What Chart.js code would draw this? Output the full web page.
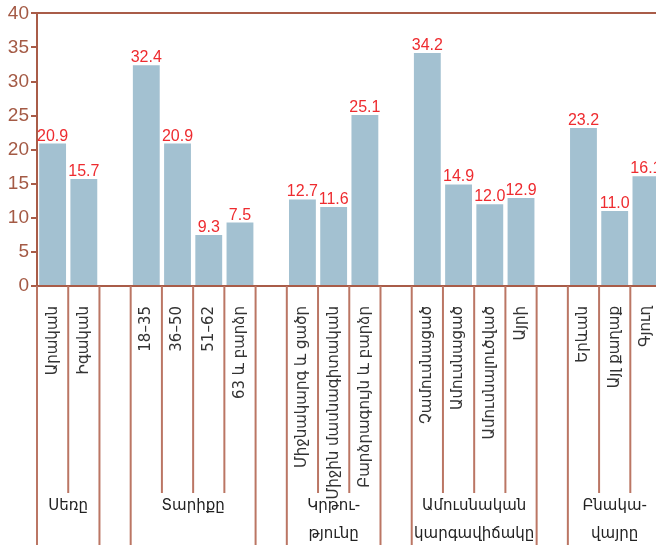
<!DOCTYPE html>
<html>
<head>
<meta charset="utf-8">
<script src="https://cdn.jsdelivr.net/npm/chart.js@4/dist/chart.umd.min.js"></script>
<style>
    html, body { margin: 0; padding: 0; background: #fff; overflow: hidden; }
    #chart { display: block; }
</style>
</head>
<body>
<canvas id="chart" width="676" height="545"></canvas>
<script>
// categories, empty strings are the gaps between groups
const categories = [
    "Արական", "Իգական", "",
    "18–35", "36–50", "51–62", "63 և բարձր", "",
    "Միջնակարգ և ցածր", "Միջին մասնագիտական", "Բարձրագույն և բարձր", "",
    "Չամուսնացած", "Ամուսնացած", "Ամուսնալուծված", "Այրի", "",
    "Երևան", "Այլ քաղաք", "Գյուղ"
];

// bar heights as drawn
const values = [
    20.9, 15.7, null,
    32.4, 20.9, 7.5, 9.3, null,
    12.7, 11.6, 25.1, null,
    34.2, 14.9, 12.0, 12.9, null,
    23.2, 11.0, 16.1
];

// texts printed above the bars
const valueLabels = [
    "20.9", "15.7", "",
    "32.4", "20.9", "9.3", "7.5", "",
    "12.7", "11.6", "25.1", "",
    "34.2", "14.9", "12.0", "12.9", "",
    "23.2", "11.0", "16.1"
];

// groups: first and last category index, label lines
const groupNames = [["Սեռը"], ["Տարիքը"], ["Կրթու-", "թյունը"], ["Ամուսնական", "կարգավիճակը"], ["Բնակա-", "վայրը"]];
const groupStart = [0, 3, 8, 12, 17];
const groupEnd = [1, 6, 10, 15, 19];

const yTicks = [0, 5, 10, 15, 20, 25, 30, 35, 40];

const AXIS = '#a95c48';
const SEP = '#bb7664';

const valueLabelPlugin = {
    id: 'valueLabels',
    afterDatasetsDraw(chart) {
        const ctx = chart.ctx;
        const meta = chart.getDatasetMeta(0);
        ctx.save();
        ctx.fillStyle = '#ee2b2f';
        ctx.font = '16px "Liberation Sans", Arial, sans-serif';
        ctx.textAlign = 'center';
        ctx.textBaseline = 'alphabetic';
        meta.data.forEach((bar, i) => {
            if (values[i] === null) return;
            ctx.fillText(valueLabels[i], bar.x, bar.y - 3);
        });
        ctx.restore();
    }
};

const groupPlugin = {
    id: 'groups',
    afterDraw(chart) {
        const ctx = chart.ctx;
        const x = chart.scales.x;
        const area = chart.chartArea;
        const slot = x.width / categories.length;
        const shortEnd = 493;
        const fullEnd = chart.height;

        ctx.save();
        ctx.strokeStyle = SEP;
        ctx.lineWidth = 2;
        for (let i = 0; i <= categories.length; i++) {
            const px = x.left + i * slot;
            // a boundary touching a gap (or the left edge) runs to the bottom
            const leftGap = i === 0 || categories[i - 1] === "";
            const rightGap = i < categories.length && categories[i] === "";
            const end = (leftGap || rightGap) ? fullEnd : shortEnd;
            ctx.beginPath();
            ctx.moveTo(px, area.bottom);
            ctx.lineTo(px, end);
            ctx.stroke();
        }

        ctx.fillStyle = '#222';
        ctx.font = '15px "DejaVu Sans", sans-serif';
        ctx.textAlign = 'center';
        ctx.textBaseline = 'middle';
        groupNames.forEach((lines, g) => {
            const cx = (x.getPixelForValue(groupStart[g]) + x.getPixelForValue(groupEnd[g])) / 2;
            lines.forEach((t, k) => ctx.fillText(t, cx, 506 + k * 28));
        });
        ctx.restore();
    }
};

new Chart(document.getElementById('chart'), {
    type: 'bar',
    data: {
        labels: categories,
        datasets: [{
            data: values,
            backgroundColor: '#a3c1d1',
            borderWidth: 0,
            barPercentage: 0.86,
            categoryPercentage: 1.0,
        }]
    },
    options: {
        responsive: false,
        animation: false,
        layout: { padding: { top: 11, right: 3, left: 0, bottom: 0 } },
        plugins: {
            legend: { display: false },
            tooltip: { enabled: false },
        },
        scales: {
            x: {
                offset: true,
                grid: { display: false },
                border: { display: true, color: AXIS, width: 2 },
                ticks: {
                    autoSkip: false,
                    maxRotation: 90,
                    minRotation: 90,
                    padding: 12,
                    color: '#333',
                    font: { family: '"DejaVu Sans", sans-serif', size: 15 },
                },
                afterFit(scale) { scale.height = 259; },
            },
            y: {
                min: 0,
                max: 40,
                afterBuildTicks(scale) { scale.ticks = yTicks.map(v => ({ value: v })); },
                grid: {
                    drawOnChartArea: true,
                    color: (c) => c.tick && c.tick.value === 40 ? AXIS : 'transparent',
                    tickColor: AXIS,
                    tickLength: 6,
                    lineWidth: 2,
                },
                border: { display: true, color: AXIS, width: 2 },
                ticks: {
                    padding: 2,
                    color: '#a45a45',
                    font: { family: '"Liberation Sans", Arial, sans-serif', size: 19 },
                },
                afterFit(scale) { scale.width = 37; },
            }
        }
    },
    plugins: [valueLabelPlugin, groupPlugin]
});
</script>
</body>
</html>
